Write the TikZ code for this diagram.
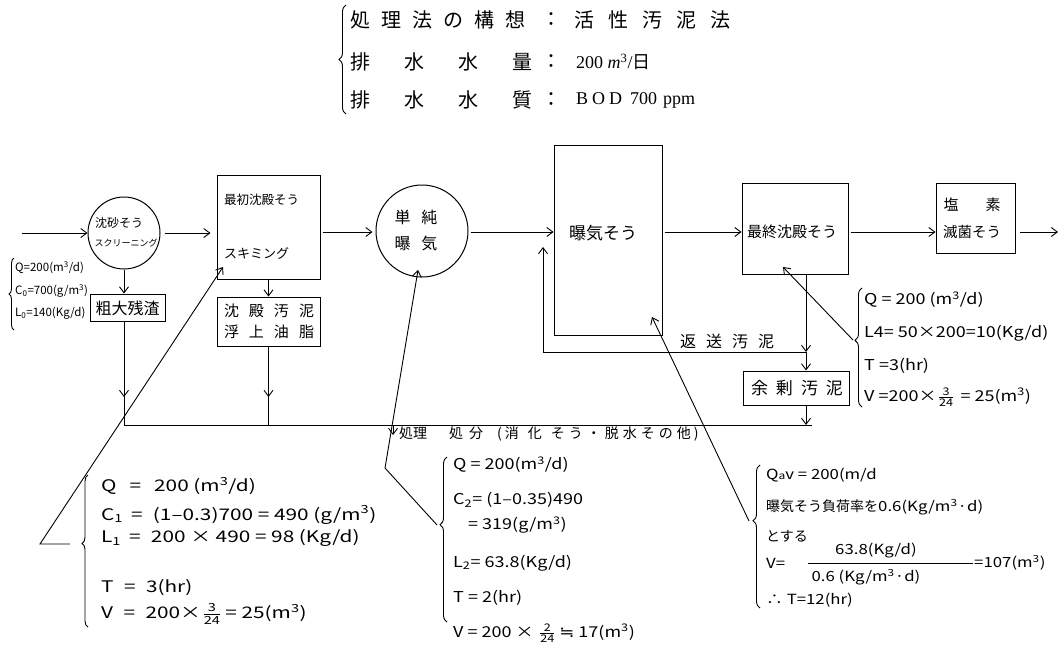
\documentclass[tikz,border=0pt]{standalone}
\usepackage{fontspec}
\usepackage{amsmath}
\usepackage{graphicx}
\setmainfont{Liberation Serif}
\newfontfamily\jp{Noto Sans CJK JP}
\newfontfamily\dv{DejaVu Sans}
\usetikzlibrary{arrows.meta,decorations.pathreplacing}
\newcommand\fsz[1]{\fontsize{#1}{#1}\selectfont}
\newcommand\su[1]{\textsuperscript{#1}}
\newcommand\lsub[1]{\textsubscript{#1}}
\newcommand\mfrac[2]{\kern1pt$\genfrac{}{}{0.6pt}{}{\text{#1}}{\text{#2}}$\kern3pt}
\newcommand\wid[1]{\scalebox{1.2}[1]{#1}}
\begin{document}
\begin{tikzpicture}[x=1pt,y=-1pt,
  box/.style={draw,line width=1pt,inner sep=0pt},
  circ/.style={draw,circle,line width=1pt,inner sep=0pt},
  txt/.style={inner sep=0pt,font=\jp},
  ln/.style={line width=0.9pt},
  arr/.style={line width=0.9pt,-{Straight Barb[length=6pt,width=9pt]}},
  brc/.style={line width=0.9pt,decorate},
  fm/.style={inner sep=0pt,anchor=west,font=\jp\fsz{#1}}
]
\fill[white] (0,0) rectangle (1063,648);
\useasboundingbox (0,0) rectangle (1063,648);

% ---------- header ----------
\draw[brc,decoration={brace,amplitude=7pt}] (346,114) -- (346,5);
\node[txt,anchor=west,font=\jp\fsz{20}] (h1) at (350,20) {処\kern11pt理\kern11pt法\kern11ptの\kern11pt構\kern11pt想};
\node[txt,font=\jp\fsz{20}] (h1c) at (551,20) {：};
\node[txt,anchor=west,font=\jp\fsz{20}] (h1v) at (574,20) {活\kern14pt性\kern14pt汚\kern14pt泥\kern14pt法};
\node[txt,anchor=west,font=\jp\fsz{20}] (h2) at (350,62) {排\kern34pt水\kern34pt水\kern34pt量};
\node[txt,font=\jp\fsz{20}] (h2c) at (551,62) {：};
\node[inner sep=0pt,anchor=west,font=\fsz{18}] (h2v) at (576,62) {200 \textit{m}\su{3}/{\jp 日}};
\node[txt,anchor=west,font=\jp\fsz{20}] (h3) at (350,100) {排\kern34pt水\kern34pt水\kern34pt質};
\node[txt,font=\jp\fsz{20}] (h3c) at (551,100) {：};
\node[inner sep=0pt,anchor=west,font=\fsz{18}] (h3v) at (576,100) {B\kern4pt O\kern4pt D\kern8pt 700\kern6pt ppm};

% ---------- process units ----------
\node[circ,minimum size=72pt] (c1) at (124,233) {};
\node[txt,font=\jp\fsz{12}] (c1a) at (119,223) {沈砂そう};
\node[txt,font=\jp\fsz{9}] (c1b) at (126,243) {スクリーニング};

\node[box,minimum width=103pt,minimum height=104pt] (b1) at (268.5,227) {};
\node[txt,anchor=west,font=\jp\fsz{12.5}] (b1a) at (224,200) {最初沈殿そう};
\node[txt,anchor=west,font=\jp\fsz{13}] (b1b) at (224,253) {スキミング};

\node[circ,minimum size=92pt] (c2) at (422,231) {};
\node[txt,font=\jp\fsz{16}] (c2a) at (416,217) {単\kern11pt純};
\node[txt,font=\jp\fsz{16}] (c2b) at (416,243) {曝\kern11pt気};

\node[box,minimum width=108pt,minimum height=190pt] (tank) at (608,240) {};
\node[txt,font=\jp\fsz{17}] (tanka) at (603,233) {曝気そう};

\node[box,minimum width=106pt,minimum height=91pt] (fs) at (795,228.5) {};
\node[txt,font=\jp\fsz{15}] (fsa) at (792,232) {最終沈殿そう};

\node[box,minimum width=79pt,minimum height=70pt] (cl) at (975.5,218) {};
\node[txt,font=\jp\fsz{15}] (cla) at (972,205) {塩\kern27pt素};
\node[txt,font=\jp\fsz{14.5}] (clb) at (972,232) {滅菌そう};

\node[box,minimum width=75pt,minimum height=27pt] (sodai) at (127.5,307.5) {};
\node[txt,font=\jp\fsz{16}] (sodaia) at (127.5,308) {粗大残渣};

\node[box,minimum width=103pt,minimum height=49pt] (chin) at (268.5,321.5) {};
\node[txt,font=\jp\fsz{15}] (china) at (269,311) {沈\kern10pt殿\kern10pt汚\kern10pt泥};
\node[txt,font=\jp\fsz{15}] (chinb) at (269,332) {浮\kern10pt上\kern10pt油\kern10pt脂};

\node[box,minimum width=106pt,minimum height=34pt] (yojo) at (796,388) {};
\node[txt,font=\jp\fsz{17}] (yojoa) at (797,388) {余\kern8pt剰\kern8pt汚\kern8pt泥};

\node[txt,font=\jp\fsz{16}] (ret) at (727,341) {返\kern10pt送\kern10pt汚\kern10pt泥};
\node[txt,anchor=west,font=\jp\fsz{14}] (dispo) at (399,434) {処理\kern22pt処\kern6pt分\kern14pt(\kern3pt消\kern9pt化\kern9ptそ\kern4ptう\kern4pt・\kern4pt脱\kern4pt水\kern4ptそ\kern4ptの\kern4pt他\kern3pt)};

% ---------- coordinates ----------
\coordinate (m) at (0,232);
\coordinate (in0) at (22,233);
\coordinate (out) at (1058,232);
\coordinate (bl) at (124,425);
\coordinate (br) at (812,425);
\coordinate (s1) at (124,397);
\coordinate (rx) at (806,352);
\coordinate (rl) at (543,352);
\coordinate (rt) at (543,247);
\coordinate (d0) at (393,425);
\coordinate (d1) at (393,435);

% ---------- main flow ----------
\draw[arr] (in0) -- (c1.west);
\draw[arr,shorten <=4pt,shorten >=6pt] (c1.east) -- (c1.east -| b1.west);
\draw[arr,shorten <=2pt,shorten >=3pt] (b1.east |- m) -- (c2.west |- m);
\draw[arr,shorten <=2pt] (c2.east |- m) -- (tank.west |- m);
\draw[arr,shorten <=2pt] (tank.east |- m) -- (fs.west |- m);
\draw[arr,shorten <=2pt] (fs.east |- m) -- (cl.west |- m);
\draw[arr,shorten <=4pt] (cl.east |- m) -- (out);

% ---------- side streams ----------
\draw[arr] (c1.south) -- (c1.south |- sodai.north);
\draw[ln] (c1.south |- sodai.south) -- (bl) -- (br);
\draw[arr] (c1.south |- sodai.south) -- (s1);
\draw[arr] (b1.south) -- (chin.north);
\draw[ln] (chin.south) -- (chin.south |- bl);
\draw[arr] (chin.south) -- (chin.south |- s1);
\draw[arr] (fs.south -| rx) -- (rx);
\draw[arr] (rx) -- (yojo.north -| rx);
\draw[arr] (rx) -- (rl) -- (rt);
\draw[arr] (yojo.south -| rx) -- (rx |- br);
\draw[arr] (d0) -- (d1);

% ---------- left small data ----------
\draw[brc,decoration={brace,amplitude=5pt}] (14,330) -- (14,258);
\node[fm=11.5] (q0a) at (15,268) {Q=200(m\su{3}/d)};
\node[fm=11.5] (q0b) at (15,291) {C\lsub{0}=700(g/m\su{3})};
\node[fm=11.5] (q0c) at (15,313) {L\lsub{0}=140(Kg/d)};

% ---------- block 1 ----------
\draw[brc,decoration={brace,amplitude=6pt,aspect=0.55}] (88,627) -- (88,475);
\coordinate (e1) at (70,544);
\coordinate (k1) at (40,544);
\coordinate (t1) at (223,267);
\draw[arr] (e1) -- (k1) -- (t1);
\node[fm=16] (f1a) at (101,486) {\scalebox{1.3}[1]{Q\kern10pt=\kern10pt200 (m\su{3}/d)}};
\node[fm=16] (f1b) at (101,515) {\scalebox{1.3}[1]{C\lsub{1}\kern6pt=\kern8pt(1–0.3)700 = 490 (g/m\su{3})}};
\node[fm=16] (f1c) at (101,538) {\scalebox{1.3}[1]{L\lsub{1}\kern6pt=\kern8pt200 × 490 = 98 (Kg/d)}};
\node[fm=16] (f1d) at (101,588) {\scalebox{1.3}[1]{T\kern8pt=\kern8pt3(hr)}};
\node[fm=16] (f1e) at (101,614) {\scalebox{1.3}[1]{V\kern8pt=\kern8pt200×\mfrac{3}{24}= 25(m\su{3})}};

% ---------- block 2 (right) ----------
\draw[brc,decoration={brace,amplitude=7pt,aspect=0.56}] (862,407) -- (862,288);
\coordinate (e2) at (853,340);
\coordinate (t2) at (783,267);
\draw[arr] (e2) -- (t2);
\node[fm=15] (f2a) at (864,300) {\wid{Q = 200 (m\su{3}/d)}};
\node[fm=15] (f2b) at (864,333) {\wid{L4= 50×200=10(Kg/d)}};
\node[fm=15] (f2c) at (864,366) {\wid{T =3(hr)}};
\node[fm=15] (f2d) at (864,397) {\wid{V =200×\mfrac{3}{24}\kern2pt= 25(m\su{3})}};

% ---------- block 3 ----------
\draw[brc,decoration={brace,amplitude=7pt,aspect=0.59}] (447,622) -- (447,457);
\coordinate (e3) at (437,525);
\coordinate (k3) at (385,468);
\coordinate (t3) at (418,270);
\draw[arr] (e3) -- (k3) -- (t3);
\node[fm=15] (f3a) at (453,465) {\wid{Q = 200(m\su{3}/d)}};
\node[fm=15] (f3b) at (453,500) {\wid{C\lsub{2}= (1–0.35)490}};
\node[fm=15] (f3c) at (468,525) {\wid{= 319(g/m\su{3})}};
\node[fm=15] (f3d) at (453,563) {\wid{L\lsub{2}= 63.8(Kg/d)}};
\node[fm=15] (f3e) at (453,598) {\wid{T = 2(hr)}};
\node[fm=15] (f3f) at (453,633) {\wid{V = 200 × \mfrac{2}{24}{\dv ≒} 17(m\su{3})}};

% ---------- block 4 ----------
\draw[brc,decoration={brace,amplitude=7pt,aspect=0.61}] (760,608) -- (760,465);
\coordinate (e4) at (749,521);
\coordinate (t4) at (652,317);
\draw[arr] (e4) -- (t4);
\node[fm=14] (f4a) at (766,475) {\wid{Q{\fsz{10}a}\textit{v} = 200(m/d}};
\node[fm=14] (f4b) at (766,507) {曝気そう負荷率を\wid{0.6(Kg/m\su{3}·d)}};
\node[fm=14] (f4c) at (766,536) {とする};
\node[fm=14] (f4d) at (766,563) {\wid{V=}};
\coordinate (fl) at (808,563);
\coordinate (fr) at (973,563);
\draw[ln] (fl) -- (fr);
\node[txt,font=\jp\fsz{14}] (f4n) at (876,551) {\wid{63.8(Kg/d)}};
\node[txt,font=\jp\fsz{14}] (f4m) at (866,577) {\wid{0.6 (Kg/m\su{3}·d)}};
\node[fm=14] (f4e) at (974,563) {\wid{=107(m\su{3})}};
\node[fm=14] (f4f) at (766,600) {\wid{∴ T=12(hr)}};
\end{tikzpicture}
\end{document}
